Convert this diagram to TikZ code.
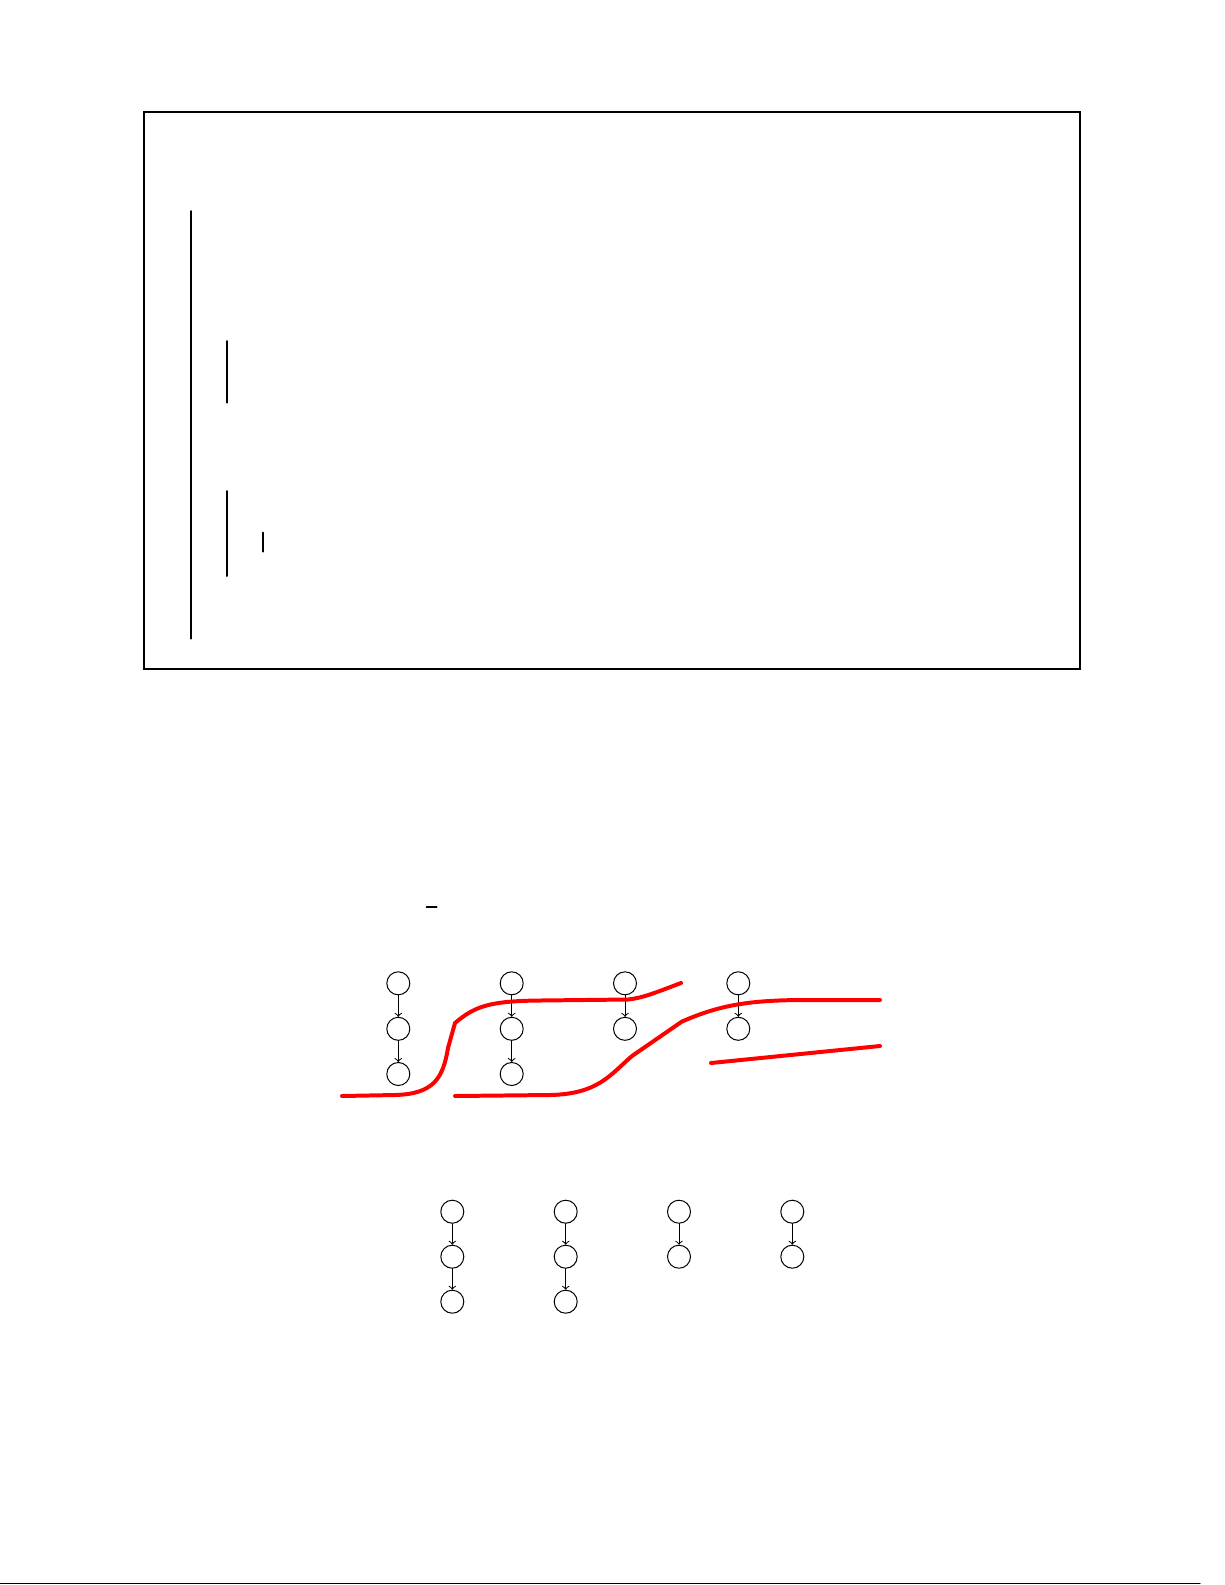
\documentclass[tikz,border=0pt]{standalone}
\begin{document}
\begin{tikzpicture}[x=0.5bp,y=-0.5bp,>=to,line cap=round,
        vx/.style={circle,draw,line width=0.5pt,minimum size=11.5bp,inner sep=0pt},
        cut/.style={red,line width=2pt,line join=round}]
    \useasboundingbox (0,0) rectangle (1225,1585);
    % frame and bars
    \draw[line width=1pt] (143.7,112) rectangle (1080,669);
    \draw[line width=1pt] (191,211)--(191,638.7) (227,341)--(227,402.7)
        (227,491)--(227,576) (262.7,532.7)--(262.7,551.7);
    \draw[line width=1pt] (426.7,906.5)--(436.7,906.5);
    % upper chains
    \foreach \n/\x in {a/398.3,b/511.7,c/625,d/738.3} {
        \node[vx] (\n1) at (\x,983.3) {};
        \node[vx] (\n2) at (\x,1028.8) {};
        \draw[->,line width=0.5pt] (\n1)--(\n2);
    }
    \foreach \n/\x in {a/398.3,b/511.7} {
        \node[vx] (\n3) at (\x,1074) {};
        \draw[->,line width=0.5pt] (\n2)--(\n3);
    }
    % red cuts
    \draw[cut] (342,1096)--(395,1095) .. controls (434,1094) and (443,1078) .. (448,1048)
        --(455,1023) .. controls (475,1006) and (490,1001) .. (540,1000.5)
        --(628,999.5) .. controls (642,998) and (652,994) .. (681,983);
    \draw[cut] (455,1096)--(550,1095) .. controls (598,1094) and (610,1075) .. (632,1056)
        --(682,1021.5) .. controls (718,1006) and (745,1000.5) .. (800,1000)--(880,1000);
    \draw[cut] (711,1063)--(880,1046);
    % lower chains
    \foreach \n/\x in {p/452.3,q/565.7,r/679,s/792.3} {
        \node[vx] (\n1) at (\x,1211.7) {};
        \node[vx] (\n2) at (\x,1256.7) {};
        \draw[->,line width=0.5pt] (\n1)--(\n2);
    }
    \foreach \n/\x in {p/452.3,q/565.7} {
        \node[vx] (\n3) at (\x,1301.7) {};
        \draw[->,line width=0.5pt] (\n2)--(\n3);
    }
    \draw[line width=0.6pt] (0,1583.7)--(1200,1583.7);
\end{tikzpicture}
\end{document}
